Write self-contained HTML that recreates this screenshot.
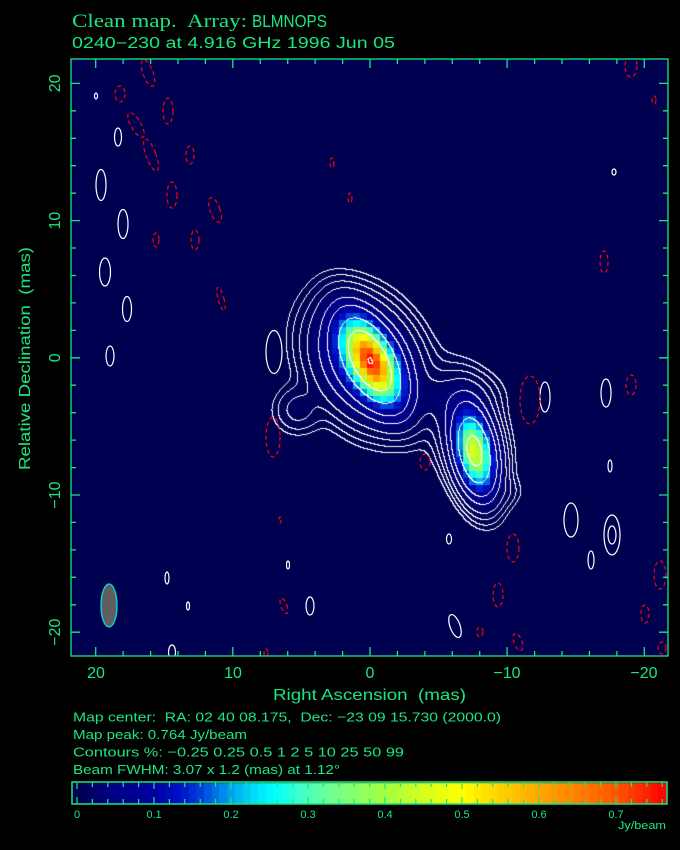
<!DOCTYPE html>
<html><head><meta charset="utf-8"><style>
html,body{margin:0;padding:0;background:#000;width:680px;height:850px;overflow:hidden}
#bg{position:absolute;left:71px;top:59px;width:597px;height:597px;background:#000050}
canvas,svg{position:absolute;left:0;top:0}
text{font-family:"Liberation Sans",sans-serif;fill:#1be681}
</style></head><body>
<div id="bg"></div>
<canvas id="c" width="680" height="850"></canvas>
<svg id="s" width="680" height="850" viewBox="0 0 680 850">
<defs><clipPath id="cp"><rect x="71" y="59" width="597" height="597"/></clipPath></defs>
<g clip-path="url(#cp)" fill="none" stroke="#fff" stroke-width="1.2">
<ellipse cx="96" cy="96" rx="1.5" ry="3"/>
<ellipse cx="118" cy="137" rx="3.5" ry="9"/>
<ellipse cx="101" cy="185" rx="5" ry="15.5"/>
<ellipse cx="123" cy="224" rx="5" ry="14.5"/>
<ellipse cx="105" cy="272" rx="5.5" ry="14"/>
<ellipse cx="127" cy="309" rx="4.5" ry="12.5"/>
<ellipse cx="110" cy="356" rx="4" ry="10"/>
<ellipse cx="274" cy="352" rx="8" ry="21.5"/>
<ellipse cx="545" cy="397" rx="5" ry="15"/>
<ellipse cx="606" cy="393" rx="5" ry="14"/>
<ellipse cx="610" cy="466" rx="2" ry="6"/>
<ellipse cx="571" cy="520" rx="7" ry="17"/>
<ellipse cx="612" cy="535" rx="8" ry="20"/>
<ellipse cx="612" cy="535" rx="4" ry="9"/>
<ellipse cx="591" cy="560" rx="3" ry="9"/>
<ellipse cx="614" cy="172" rx="2" ry="3"/>
<ellipse cx="449" cy="539" rx="2.5" ry="5"/>
<ellipse cx="288" cy="565" rx="1.5" ry="4"/>
<ellipse cx="167" cy="578" rx="2" ry="6"/>
<ellipse cx="188" cy="606" rx="1.5" ry="4"/>
<ellipse cx="310" cy="606" rx="4" ry="9"/>
<ellipse cx="455" cy="626" rx="5" ry="12" transform="rotate(-20 455 626)"/>
<ellipse cx="172" cy="652" rx="3.5" ry="7"/>
</g>
<g clip-path="url(#cp)" fill="none" stroke="#f00" stroke-width="1.2" stroke-dasharray="4 3">
<ellipse cx="148" cy="73" rx="5" ry="14" transform="rotate(-20 148 73)"/>
<ellipse cx="120" cy="94" rx="5" ry="8"/>
<ellipse cx="168" cy="111" rx="5" ry="13"/>
<ellipse cx="136" cy="125" rx="5" ry="14" transform="rotate(-30 136 125)"/>
<ellipse cx="151" cy="155" rx="5" ry="17" transform="rotate(-20 151 155)"/>
<ellipse cx="190" cy="155" rx="4" ry="9"/>
<ellipse cx="172" cy="195" rx="5" ry="13"/>
<ellipse cx="215" cy="210" rx="5" ry="13" transform="rotate(-20 215 210)"/>
<ellipse cx="156" cy="240" rx="3" ry="7"/>
<ellipse cx="195" cy="240" rx="4" ry="10"/>
<ellipse cx="221" cy="299" rx="3" ry="12" transform="rotate(-15 221 299)"/>
<ellipse cx="332" cy="163" rx="2" ry="5"/>
<ellipse cx="350" cy="198" rx="2" ry="5"/>
<ellipse cx="273" cy="437" rx="7" ry="20"/>
<ellipse cx="425" cy="462" rx="5" ry="8"/>
<ellipse cx="530" cy="400" rx="10" ry="24"/>
<ellipse cx="513" cy="548" rx="6" ry="14"/>
<ellipse cx="498" cy="595" rx="5" ry="12"/>
<ellipse cx="604" cy="262" rx="4" ry="11"/>
<ellipse cx="631" cy="385" rx="5" ry="10"/>
<ellipse cx="631" cy="66" rx="6" ry="11"/>
<ellipse cx="654" cy="100" rx="2" ry="4"/>
<ellipse cx="660" cy="575" rx="6" ry="14"/>
<ellipse cx="645" cy="614" rx="4" ry="9"/>
<ellipse cx="662" cy="648" rx="4" ry="6"/>
<ellipse cx="480" cy="632" rx="3" ry="5"/>
<ellipse cx="518" cy="642" rx="4" ry="9" transform="rotate(-20 518 642)"/>
<ellipse cx="284" cy="606" rx="3" ry="8" transform="rotate(-20 284 606)"/>
<ellipse cx="266" cy="653" rx="2" ry="4"/>
<ellipse cx="280" cy="520" rx="1" ry="3"/>
</g>
<ellipse cx="109" cy="605.5" rx="8" ry="21.5" fill="#5f5f5f" stroke="#00e0e0" stroke-width="1.3"/>
<rect x="71" y="59" width="597" height="597" fill="none" stroke="#1be681" stroke-width="1.3"/>
<path id="tk" fill="none" stroke="#1be681" stroke-width="1.3"/>
<rect x="72" y="782" width="595" height="22" fill="none" stroke="#1be681" stroke-width="1.5"/>
<path id="ctk" fill="none" stroke="#1be681" stroke-width="1.2"/>

<text x="72" y="27" font-size="19" style="font-family:'Liberation Serif',serif" textLength="175" lengthAdjust="spacingAndGlyphs">Clean map.&#160; Array:</text>
<text x="252" y="27" font-size="17.5" textLength="75" lengthAdjust="spacingAndGlyphs">BLMNOPS</text>
<text x="72" y="48" font-size="15.5" textLength="323" lengthAdjust="spacingAndGlyphs">0240−230 at 4.916 GHz 1996 Jun 05</text>

<g font-size="16" text-anchor="middle">
<text x="96" y="678">20</text>
<text x="233" y="678">10</text>
<text x="370" y="678">0</text>
<text x="507" y="678">−10</text>
<text x="644" y="678">−20</text>
<text transform="translate(60,83.4) rotate(-90)">20</text>
<text transform="translate(60,220.6) rotate(-90)">10</text>
<text transform="translate(60,357.8) rotate(-90)">0</text>
<text transform="translate(60,495) rotate(-90)">−10</text>
<text transform="translate(60,632.2) rotate(-90)">−20</text>
</g>
<text x="273" y="700" font-size="16" textLength="193" lengthAdjust="spacingAndGlyphs">Right Ascension&#160; (mas)</text>
<text transform="translate(30,358.5) rotate(-90)" font-size="16" text-anchor="middle" textLength="223" lengthAdjust="spacingAndGlyphs">Relative Declination&#160; (mas)</text>

<g font-size="13">
<text x="73" y="721.5" textLength="428" lengthAdjust="spacingAndGlyphs">Map center:&#160; RA: 02 40 08.175,&#160; Dec: −23 09 15.730 (2000.0)</text>
<text x="73" y="739" textLength="174" lengthAdjust="spacingAndGlyphs">Map peak: 0.764 Jy/beam</text>
<text x="73" y="756.5" textLength="331" lengthAdjust="spacingAndGlyphs">Contours %: −0.25 0.25 0.5 1 2 5 10 25 50 99</text>
<text x="73" y="774" textLength="267" lengthAdjust="spacingAndGlyphs">Beam FWHM: 3.07 x 1.2 (mas) at 1.12°</text>
</g>
<g font-size="11" text-anchor="middle">
<text x="77" y="818">0</text>
<text x="154" y="818">0.1</text>
<text x="231" y="818">0.2</text>
<text x="308" y="818">0.3</text>
<text x="385" y="818">0.4</text>
<text x="462" y="818">0.5</text>
<text x="539" y="818">0.6</text>
<text x="616" y="818">0.7</text>
</g>
<text x="618" y="829" font-size="11" textLength="48" lengthAdjust="spacingAndGlyphs">Jy/beam</text>
</svg>
<script>
(function(){
var p='';
for(var m=-20;m<=20;m+=2){var L=(m%10==0)?9:5;var x=(370-13.715*m).toFixed(1);var y=(357.8-13.72*m).toFixed(1);
p+='M'+x+' 59v'+L+'M'+x+' 656v'+(-L)+'M71 '+y+'h'+L+'M668 '+y+'h'+(-L);}
document.getElementById('tk').setAttribute('d',p);
var q='';
for(var k=0;k<=38;k++){var x=77+770*0.02*k;if(x>666)break;var L=(k%5==0)?7:5;q+='M'+x.toFixed(1)+' 782v'+L+'M'+x.toFixed(1)+' 804v'+(-L);}
document.getElementById('ctk').setAttribute('d',q);

var cv=document.getElementById('c'),ctx=cv.getContext('2d');
var W=680,H=850,im=ctx.createImageData(W,H),d=im.data;
var S=[[0,0,0,80],[.04,0,0,128],[.1,0,0,160],[.134,0,16,200],[.16,0,64,216],[.186,0,128,232],[.21,0,184,240],[.238,0,232,255],[.257,0,255,255],[.29,64,255,200],[.33,112,255,144],[.37,144,255,96],[.4,160,255,64],[.445,208,255,32],[.5,255,255,0],[.55,255,208,0],[.6,255,168,0],[.65,255,128,0],[.705,255,80,0],[.764,255,0,0]];
function cm(v){if(v<=0)return [0,0,80];if(v>=.764)return [255,0,0];
for(var i=1;i<S.length;i++){if(v<=S[i][0]){var a=S[i-1],b=S[i],t=(v-a[0])/(b[0]-a[0]);return [a[1]+(b[1]-a[1])*t,a[2]+(b[2]-a[2])*t,a[3]+(b[3]-a[3])*t];}}return [255,0,0];}
var C=[[371,361,.595,27,13,28],[366,362,.17,32,24,32],[298,410,.01,14,14,0],[475,452,.44,24,11,11],[468,432,.03,32,18,15],[460,400,.012,14,22,10],[434,392,.006,12,12,0],[508,492,.004,9,9,0]].map(function(a){return {x:a[0],y:a[1],A:a[2],a2:a[3]*a[3],b2:a[4]*a[4],s:Math.sin(a[5]*Math.PI/180),c:Math.cos(a[5]*Math.PI/180)};});
function f(x,y){var s=0;for(var i=0;i<C.length;i++){var k=C[i];var dx=x-k.x,dy=y-k.y;var P=dx*k.s+dy*k.c,Q=dx*k.c-dy*k.s;var e=0.5*(P*P/k.a2+Q*Q/k.b2);if(e<40)s+=k.A*Math.exp(-e);}return s;}
var LV=[.00191,.00382,.00764,.0153,.0382,.0764,.191,.382,.756];
function li(v){var n=0;for(var i=0;i<LV.length;i++)if(v>LV[i])n++;return n;}
var x0=71,y0=59,N=598;
var F=new Float32Array(N*N),I=new Int8Array(N*N);
for(var j=0;j<N;j++)for(var i=0;i<N;i++){var v=f(x0+i+0.5,y0+j+0.5);F[j*N+i]=v;I[j*N+i]=li(v);}
var B=6.857,cache={};
function bv(x,y){var bx=Math.round((x+0.5-370)/B),by=Math.round((y+0.5-357.8)/B);var key=bx+','+by;if(!(key in cache))cache[key]=f(370+bx*B,357.8+by*B);return cache[key];}
for(var y=59;y<656;y++)for(var x=71;x<668;x++){
var i=x-x0,j=y-y0,o=(y*W+x)*4;
var k=I[j*N+i];
var white=(k!=I[j*N+i+1])||(k!=I[(j+1)*N+i]);
if(white){d[o]=255;d[o+1]=255;d[o+2]=255;d[o+3]=255;}
else{var c=cm(bv(x,y));d[o]=c[0];d[o+1]=c[1];d[o+2]=c[2];d[o+3]=255;}
}
for(var y=783;y<804;y++)for(var x=73;x<667;x++){
var v=(x+0.5-77)/770;v=Math.round(v*100)/100;var c=cm(v);var o=(y*W+x)*4;d[o]=c[0];d[o+1]=c[1];d[o+2]=c[2];d[o+3]=255;}
ctx.putImageData(im,0,0);
})();
</script>
</body></html>
